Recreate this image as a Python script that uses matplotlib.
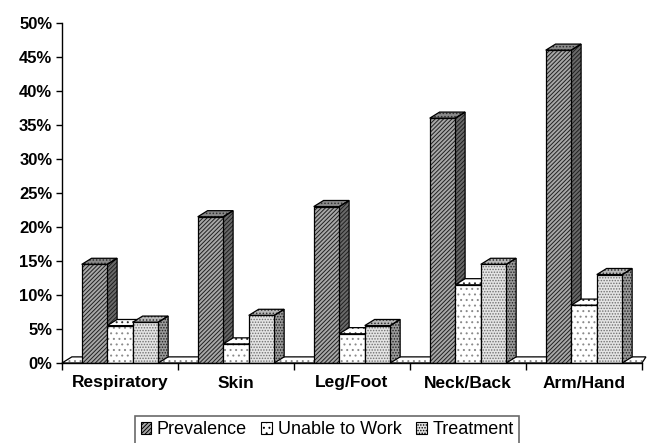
import numpy as np
import matplotlib.pyplot as plt
from matplotlib.patches import Polygon, Patch

plt.rcParams['font.family'] = ['Liberation Sans', 'DejaVu Sans']
plt.rcParams['hatch.linewidth'] = 0.7

categories = ["Respiratory", "Skin", "Leg/Foot", "Neck/Back", "Arm/Hand"]
prevalence = [14.5, 21.5, 23.0, 36.0, 46.0]
unable_to_work = [5.5, 2.8, 4.3, 11.5, 8.5]
treatment = [6.0, 7.0, 5.5, 14.5, 13.0]
series_names = ["Prevalence", "Unable to Work", "Treatment"]
yticks = [0, 5, 10, 15, 20, 25, 30, 35, 40, 45, 50]

# face colour, hatch, hatch colour for front / top / side
styles = [
    dict(face='#a8a8a8', hatch='////////', hc='#202020',
         top='#8a8a8a', top_hatch='.....', side='#6a6a6a', side_hatch='////////'),
    dict(face='#ffffff', hatch='...', hc='#8a8a8a',
         top='#ffffff', top_hatch='...', side='#d0d0d0', side_hatch='...'),
    dict(face='#e4e4e4', hatch='......', hc='#707070',
         top='#b8b8b8', top_hatch='.....', side='#9a9a9a', side_hatch='......'),
]

fig = plt.figure(figsize=(6.47, 4.43), dpi=100)
ax = fig.add_axes([62 / 647, 1 - 363 / 443, 580 / 647, 340 / 443])

x = np.arange(len(categories))
w = 0.22
dx = 0.085   # depth offset (x, data units)
dy = 0.9     # depth offset (y, data units)

ax.set_xlim(-0.5, len(categories) - 0.5)
ax.set_ylim(0, 50)


def face(pts, fc, hatch, hc, z):
    # hatched fill first, black outline on top
    ax.add_patch(Polygon(pts, closed=True, facecolor=fc, edgecolor=hc, hatch=hatch,
                         lw=0, clip_on=False, zorder=z))
    ax.add_patch(Polygon(pts, closed=True, fill=False, edgecolor='black',
                         lw=0.9, clip_on=False, zorder=z + 0.01))


# floor slab
x_end = len(categories) - 0.5
face([(-0.5, 0), (x_end, 0), (x_end + dx * 0.4, dy), (-0.5 + dx, dy)],
     '#ffffff', '...', '#888888', 1)

data = [prevalence, unable_to_work, treatment]
for j, vals in enumerate(data):
    st = styles[j]
    xs = x + (j - 1) * w
    for xi, v in zip(xs, vals):
        x0, x1 = xi - w / 2, xi + w / 2
        face([(x1, 0), (x1 + dx, dy), (x1 + dx, v + dy), (x1, v)],
             st['side'], st['side_hatch'], '#202020', 2 + j)
        face([(x0, v), (x1, v), (x1 + dx, v + dy), (x0 + dx, v + dy)],
             st['top'], st['top_hatch'], '#303030', 2 + j)
    ax.bar(xs, vals, w, facecolor=st['face'], edgecolor=st['hc'], hatch=st['hatch'],
           lw=0, zorder=2.5 + j)
    ax.bar(xs, vals, w, fill=False, edgecolor='black', lw=0.9, zorder=2.6 + j)

ax.spines['top'].set_visible(False)
ax.spines['right'].set_visible(False)
ax.spines['left'].set_linewidth(1.0)
ax.spines['bottom'].set_linewidth(1.0)
ax.spines['bottom'].set_zorder(6)

ax.set_yticks(yticks)
ax.set_yticklabels([f"{t}%" for t in yticks], fontsize=12, fontweight='bold')
ax.tick_params(axis='y', direction='out', length=4, width=1, pad=3)

ax.set_xticks(np.arange(-0.5, len(categories) + 0.5, 1))
ax.set_xticklabels([])
ax.set_xticks(x, minor=True)
ax.set_xticklabels(categories, minor=True, fontsize=12.5, fontweight='bold')
ax.tick_params(axis='x', which='major', direction='out', length=5, width=1)
ax.tick_params(axis='x', which='minor', length=0, pad=9)

handles = [Patch(facecolor=st['face'], edgecolor='black', hatch=st['hatch'], lw=0.8)
           for st in styles]
leg = fig.legend(handles, series_names, loc='upper center',
                 bbox_to_anchor=(327 / 647, 1 - 416 / 443),
                 ncol=3, fontsize=13, frameon=True, fancybox=False, handlelength=0.6,
                 handleheight=0.6, handletextpad=0.3, columnspacing=0.8,
                 borderpad=0.3, borderaxespad=0)
leg.get_frame().set_edgecolor('#444444')
leg.get_frame().set_linewidth(1.2)

fig.savefig("out.png", dpi=100)
